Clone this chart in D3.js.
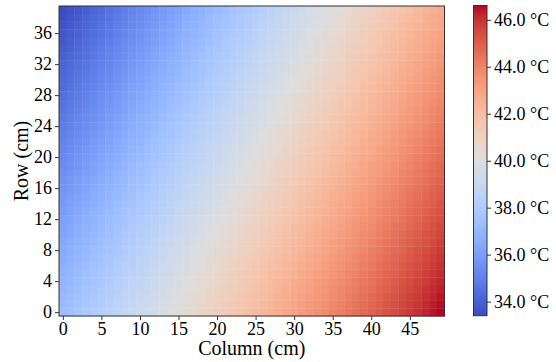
<!DOCTYPE html>
<html>
<head>
<meta charset="utf-8">
<script src="https://cdn.jsdelivr.net/npm/d3@7"></script>
<style>
  body { margin: 0; background: #fff; }
  svg text { font-family: "Liberation Serif", "Times New Roman", serif !important; fill: #000; }
</style>
</head>
<body>
<div id="main"></div>
<script>

// column / row indices of the grid (cm)
var colIds = d3.range(50);
var rowIds = d3.range(40);

var xTicks = [0, 5, 10, 15, 20, 25, 30, 35, 40, 45];
var yTicks = [0, 4, 8, 12, 16, 20, 24, 28, 32, 36];
var cbTicks = [34, 36, 38, 40, 42, 44, 46];

// temperature per cell, temps[row][col], row 0 is the bottom row
var temps = [
[37.30,37.49,37.68,37.87,38.06,38.25,38.44,38.63,38.82,39.01,39.20,39.39,39.58,39.77,39.96,40.15,40.34,40.53,40.72,40.91,41.10,41.29,41.48,41.67,41.86,42.05,42.24,42.43,42.62,42.81,43.00,43.19,43.38,43.57,43.76,43.95,44.14,44.33,44.52,44.71,44.90,45.09,45.28,45.47,45.66,45.85,46.04,46.23,46.42,46.61],
[37.20,37.39,37.58,37.77,37.96,38.15,38.34,38.53,38.72,38.91,39.10,39.29,39.48,39.67,39.86,40.05,40.24,40.43,40.62,40.81,41.00,41.19,41.38,41.57,41.76,41.95,42.14,42.33,42.52,42.71,42.90,43.09,43.28,43.47,43.66,43.85,44.04,44.23,44.42,44.61,44.80,44.99,45.18,45.37,45.56,45.75,45.94,46.13,46.32,46.51],
[37.10,37.29,37.48,37.67,37.86,38.05,38.24,38.43,38.62,38.81,39.00,39.19,39.38,39.57,39.76,39.95,40.14,40.33,40.52,40.71,40.90,41.09,41.28,41.47,41.66,41.85,42.04,42.23,42.42,42.61,42.80,42.99,43.18,43.37,43.56,43.75,43.94,44.13,44.32,44.51,44.70,44.89,45.08,45.27,45.46,45.65,45.84,46.03,46.22,46.41],
[37.00,37.19,37.38,37.57,37.76,37.95,38.14,38.33,38.52,38.71,38.90,39.09,39.28,39.47,39.66,39.85,40.04,40.23,40.42,40.61,40.80,40.99,41.18,41.37,41.56,41.75,41.94,42.13,42.32,42.51,42.70,42.89,43.08,43.27,43.46,43.65,43.84,44.03,44.22,44.41,44.60,44.79,44.98,45.17,45.36,45.55,45.74,45.93,46.12,46.31],
[36.90,37.09,37.28,37.47,37.66,37.85,38.04,38.23,38.42,38.61,38.80,38.99,39.18,39.37,39.56,39.75,39.94,40.13,40.32,40.51,40.70,40.89,41.08,41.27,41.46,41.65,41.84,42.03,42.22,42.41,42.60,42.79,42.98,43.17,43.36,43.55,43.74,43.93,44.12,44.31,44.50,44.69,44.88,45.07,45.26,45.45,45.64,45.83,46.02,46.21],
[36.80,36.99,37.18,37.37,37.56,37.75,37.94,38.13,38.32,38.51,38.70,38.89,39.08,39.27,39.46,39.65,39.84,40.03,40.22,40.41,40.60,40.79,40.98,41.17,41.36,41.55,41.74,41.93,42.12,42.31,42.50,42.69,42.88,43.07,43.26,43.45,43.64,43.83,44.02,44.21,44.40,44.59,44.78,44.97,45.16,45.35,45.54,45.73,45.92,46.11],
[36.70,36.89,37.08,37.27,37.46,37.65,37.84,38.03,38.22,38.41,38.60,38.79,38.98,39.17,39.36,39.55,39.74,39.93,40.12,40.31,40.50,40.69,40.88,41.07,41.26,41.45,41.64,41.83,42.02,42.21,42.40,42.59,42.78,42.97,43.16,43.35,43.54,43.73,43.92,44.11,44.30,44.49,44.68,44.87,45.06,45.25,45.44,45.63,45.82,46.01],
[36.60,36.79,36.98,37.17,37.36,37.55,37.74,37.93,38.12,38.31,38.50,38.69,38.88,39.07,39.26,39.45,39.64,39.83,40.02,40.21,40.40,40.59,40.78,40.97,41.16,41.35,41.54,41.73,41.92,42.11,42.30,42.49,42.68,42.87,43.06,43.25,43.44,43.63,43.82,44.01,44.20,44.39,44.58,44.77,44.96,45.15,45.34,45.53,45.72,45.91],
[36.50,36.69,36.88,37.07,37.26,37.45,37.64,37.83,38.02,38.21,38.40,38.59,38.78,38.97,39.16,39.35,39.54,39.73,39.92,40.11,40.30,40.49,40.68,40.87,41.06,41.25,41.44,41.63,41.82,42.01,42.20,42.39,42.58,42.77,42.96,43.15,43.34,43.53,43.72,43.91,44.10,44.29,44.48,44.67,44.86,45.05,45.24,45.43,45.62,45.81],
[36.40,36.59,36.78,36.97,37.16,37.35,37.54,37.73,37.92,38.11,38.30,38.49,38.68,38.87,39.06,39.25,39.44,39.63,39.82,40.01,40.20,40.39,40.58,40.77,40.96,41.15,41.34,41.53,41.72,41.91,42.10,42.29,42.48,42.67,42.86,43.05,43.24,43.43,43.62,43.81,44.00,44.19,44.38,44.57,44.76,44.95,45.14,45.33,45.52,45.71],
[36.30,36.49,36.68,36.87,37.06,37.25,37.44,37.63,37.82,38.01,38.20,38.39,38.58,38.77,38.96,39.15,39.34,39.53,39.72,39.91,40.10,40.29,40.48,40.67,40.86,41.05,41.24,41.43,41.62,41.81,42.00,42.19,42.38,42.57,42.76,42.95,43.14,43.33,43.52,43.71,43.90,44.09,44.28,44.47,44.66,44.85,45.04,45.23,45.42,45.61],
[36.20,36.39,36.58,36.77,36.96,37.15,37.34,37.53,37.72,37.91,38.10,38.29,38.48,38.67,38.86,39.05,39.24,39.43,39.62,39.81,40.00,40.19,40.38,40.57,40.76,40.95,41.14,41.33,41.52,41.71,41.90,42.09,42.28,42.47,42.66,42.85,43.04,43.23,43.42,43.61,43.80,43.99,44.18,44.37,44.56,44.75,44.94,45.13,45.32,45.51],
[36.10,36.29,36.48,36.67,36.86,37.05,37.24,37.43,37.62,37.81,38.00,38.19,38.38,38.57,38.76,38.95,39.14,39.33,39.52,39.71,39.90,40.09,40.28,40.47,40.66,40.85,41.04,41.23,41.42,41.61,41.80,41.99,42.18,42.37,42.56,42.75,42.94,43.13,43.32,43.51,43.70,43.89,44.08,44.27,44.46,44.65,44.84,45.03,45.22,45.41],
[36.00,36.19,36.38,36.57,36.76,36.95,37.14,37.33,37.52,37.71,37.90,38.09,38.28,38.47,38.66,38.85,39.04,39.23,39.42,39.61,39.80,39.99,40.18,40.37,40.56,40.75,40.94,41.13,41.32,41.51,41.70,41.89,42.08,42.27,42.46,42.65,42.84,43.03,43.22,43.41,43.60,43.79,43.98,44.17,44.36,44.55,44.74,44.93,45.12,45.31],
[35.90,36.09,36.28,36.47,36.66,36.85,37.04,37.23,37.42,37.61,37.80,37.99,38.18,38.37,38.56,38.75,38.94,39.13,39.32,39.51,39.70,39.89,40.08,40.27,40.46,40.65,40.84,41.03,41.22,41.41,41.60,41.79,41.98,42.17,42.36,42.55,42.74,42.93,43.12,43.31,43.50,43.69,43.88,44.07,44.26,44.45,44.64,44.83,45.02,45.21],
[35.80,35.99,36.18,36.37,36.56,36.75,36.94,37.13,37.32,37.51,37.70,37.89,38.08,38.27,38.46,38.65,38.84,39.03,39.22,39.41,39.60,39.79,39.98,40.17,40.36,40.55,40.74,40.93,41.12,41.31,41.50,41.69,41.88,42.07,42.26,42.45,42.64,42.83,43.02,43.21,43.40,43.59,43.78,43.97,44.16,44.35,44.54,44.73,44.92,45.11],
[35.70,35.89,36.08,36.27,36.46,36.65,36.84,37.03,37.22,37.41,37.60,37.79,37.98,38.17,38.36,38.55,38.74,38.93,39.12,39.31,39.50,39.69,39.88,40.07,40.26,40.45,40.64,40.83,41.02,41.21,41.40,41.59,41.78,41.97,42.16,42.35,42.54,42.73,42.92,43.11,43.30,43.49,43.68,43.87,44.06,44.25,44.44,44.63,44.82,45.01],
[35.60,35.79,35.98,36.17,36.36,36.55,36.74,36.93,37.12,37.31,37.50,37.69,37.88,38.07,38.26,38.45,38.64,38.83,39.02,39.21,39.40,39.59,39.78,39.97,40.16,40.35,40.54,40.73,40.92,41.11,41.30,41.49,41.68,41.87,42.06,42.25,42.44,42.63,42.82,43.01,43.20,43.39,43.58,43.77,43.96,44.15,44.34,44.53,44.72,44.91],
[35.50,35.69,35.88,36.07,36.26,36.45,36.64,36.83,37.02,37.21,37.40,37.59,37.78,37.97,38.16,38.35,38.54,38.73,38.92,39.11,39.30,39.49,39.68,39.87,40.06,40.25,40.44,40.63,40.82,41.01,41.20,41.39,41.58,41.77,41.96,42.15,42.34,42.53,42.72,42.91,43.10,43.29,43.48,43.67,43.86,44.05,44.24,44.43,44.62,44.81],
[35.40,35.59,35.78,35.97,36.16,36.35,36.54,36.73,36.92,37.11,37.30,37.49,37.68,37.87,38.06,38.25,38.44,38.63,38.82,39.01,39.20,39.39,39.58,39.77,39.96,40.15,40.34,40.53,40.72,40.91,41.10,41.29,41.48,41.67,41.86,42.05,42.24,42.43,42.62,42.81,43.00,43.19,43.38,43.57,43.76,43.95,44.14,44.33,44.52,44.71],
[35.30,35.49,35.68,35.87,36.06,36.25,36.44,36.63,36.82,37.01,37.20,37.39,37.58,37.77,37.96,38.15,38.34,38.53,38.72,38.91,39.10,39.29,39.48,39.67,39.86,40.05,40.24,40.43,40.62,40.81,41.00,41.19,41.38,41.57,41.76,41.95,42.14,42.33,42.52,42.71,42.90,43.09,43.28,43.47,43.66,43.85,44.04,44.23,44.42,44.61],
[35.20,35.39,35.58,35.77,35.96,36.15,36.34,36.53,36.72,36.91,37.10,37.29,37.48,37.67,37.86,38.05,38.24,38.43,38.62,38.81,39.00,39.19,39.38,39.57,39.76,39.95,40.14,40.33,40.52,40.71,40.90,41.09,41.28,41.47,41.66,41.85,42.04,42.23,42.42,42.61,42.80,42.99,43.18,43.37,43.56,43.75,43.94,44.13,44.32,44.51],
[35.10,35.29,35.48,35.67,35.86,36.05,36.24,36.43,36.62,36.81,37.00,37.19,37.38,37.57,37.76,37.95,38.14,38.33,38.52,38.71,38.90,39.09,39.28,39.47,39.66,39.85,40.04,40.23,40.42,40.61,40.80,40.99,41.18,41.37,41.56,41.75,41.94,42.13,42.32,42.51,42.70,42.89,43.08,43.27,43.46,43.65,43.84,44.03,44.22,44.41],
[35.00,35.19,35.38,35.57,35.76,35.95,36.14,36.33,36.52,36.71,36.90,37.09,37.28,37.47,37.66,37.85,38.04,38.23,38.42,38.61,38.80,38.99,39.18,39.37,39.56,39.75,39.94,40.13,40.32,40.51,40.70,40.89,41.08,41.27,41.46,41.65,41.84,42.03,42.22,42.41,42.60,42.79,42.98,43.17,43.36,43.55,43.74,43.93,44.12,44.31],
[34.90,35.09,35.28,35.47,35.66,35.85,36.04,36.23,36.42,36.61,36.80,36.99,37.18,37.37,37.56,37.75,37.94,38.13,38.32,38.51,38.70,38.89,39.08,39.27,39.46,39.65,39.84,40.03,40.22,40.41,40.60,40.79,40.98,41.17,41.36,41.55,41.74,41.93,42.12,42.31,42.50,42.69,42.88,43.07,43.26,43.45,43.64,43.83,44.02,44.21],
[34.80,34.99,35.18,35.37,35.56,35.75,35.94,36.13,36.32,36.51,36.70,36.89,37.08,37.27,37.46,37.65,37.84,38.03,38.22,38.41,38.60,38.79,38.98,39.17,39.36,39.55,39.74,39.93,40.12,40.31,40.50,40.69,40.88,41.07,41.26,41.45,41.64,41.83,42.02,42.21,42.40,42.59,42.78,42.97,43.16,43.35,43.54,43.73,43.92,44.11],
[34.70,34.89,35.08,35.27,35.46,35.65,35.84,36.03,36.22,36.41,36.60,36.79,36.98,37.17,37.36,37.55,37.74,37.93,38.12,38.31,38.50,38.69,38.88,39.07,39.26,39.45,39.64,39.83,40.02,40.21,40.40,40.59,40.78,40.97,41.16,41.35,41.54,41.73,41.92,42.11,42.30,42.49,42.68,42.87,43.06,43.25,43.44,43.63,43.82,44.01],
[34.60,34.79,34.98,35.17,35.36,35.55,35.74,35.93,36.12,36.31,36.50,36.69,36.88,37.07,37.26,37.45,37.64,37.83,38.02,38.21,38.40,38.59,38.78,38.97,39.16,39.35,39.54,39.73,39.92,40.11,40.30,40.49,40.68,40.87,41.06,41.25,41.44,41.63,41.82,42.01,42.20,42.39,42.58,42.77,42.96,43.15,43.34,43.53,43.72,43.91],
[34.50,34.69,34.88,35.07,35.26,35.45,35.64,35.83,36.02,36.21,36.40,36.59,36.78,36.97,37.16,37.35,37.54,37.73,37.92,38.11,38.30,38.49,38.68,38.87,39.06,39.25,39.44,39.63,39.82,40.01,40.20,40.39,40.58,40.77,40.96,41.15,41.34,41.53,41.72,41.91,42.10,42.29,42.48,42.67,42.86,43.05,43.24,43.43,43.62,43.81],
[34.40,34.59,34.78,34.97,35.16,35.35,35.54,35.73,35.92,36.11,36.30,36.49,36.68,36.87,37.06,37.25,37.44,37.63,37.82,38.01,38.20,38.39,38.58,38.77,38.96,39.15,39.34,39.53,39.72,39.91,40.10,40.29,40.48,40.67,40.86,41.05,41.24,41.43,41.62,41.81,42.00,42.19,42.38,42.57,42.76,42.95,43.14,43.33,43.52,43.71],
[34.30,34.49,34.68,34.87,35.06,35.25,35.44,35.63,35.82,36.01,36.20,36.39,36.58,36.77,36.96,37.15,37.34,37.53,37.72,37.91,38.10,38.29,38.48,38.67,38.86,39.05,39.24,39.43,39.62,39.81,40.00,40.19,40.38,40.57,40.76,40.95,41.14,41.33,41.52,41.71,41.90,42.09,42.28,42.47,42.66,42.85,43.04,43.23,43.42,43.61],
[34.20,34.39,34.58,34.77,34.96,35.15,35.34,35.53,35.72,35.91,36.10,36.29,36.48,36.67,36.86,37.05,37.24,37.43,37.62,37.81,38.00,38.19,38.38,38.57,38.76,38.95,39.14,39.33,39.52,39.71,39.90,40.09,40.28,40.47,40.66,40.85,41.04,41.23,41.42,41.61,41.80,41.99,42.18,42.37,42.56,42.75,42.94,43.13,43.32,43.51],
[34.10,34.29,34.48,34.67,34.86,35.05,35.24,35.43,35.62,35.81,36.00,36.19,36.38,36.57,36.76,36.95,37.14,37.33,37.52,37.71,37.90,38.09,38.28,38.47,38.66,38.85,39.04,39.23,39.42,39.61,39.80,39.99,40.18,40.37,40.56,40.75,40.94,41.13,41.32,41.51,41.70,41.89,42.08,42.27,42.46,42.65,42.84,43.03,43.22,43.41],
[34.00,34.19,34.38,34.57,34.76,34.95,35.14,35.33,35.52,35.71,35.90,36.09,36.28,36.47,36.66,36.85,37.04,37.23,37.42,37.61,37.80,37.99,38.18,38.37,38.56,38.75,38.94,39.13,39.32,39.51,39.70,39.89,40.08,40.27,40.46,40.65,40.84,41.03,41.22,41.41,41.60,41.79,41.98,42.17,42.36,42.55,42.74,42.93,43.12,43.31],
[33.90,34.09,34.28,34.47,34.66,34.85,35.04,35.23,35.42,35.61,35.80,35.99,36.18,36.37,36.56,36.75,36.94,37.13,37.32,37.51,37.70,37.89,38.08,38.27,38.46,38.65,38.84,39.03,39.22,39.41,39.60,39.79,39.98,40.17,40.36,40.55,40.74,40.93,41.12,41.31,41.50,41.69,41.88,42.07,42.26,42.45,42.64,42.83,43.02,43.21],
[33.80,33.99,34.18,34.37,34.56,34.75,34.94,35.13,35.32,35.51,35.70,35.89,36.08,36.27,36.46,36.65,36.84,37.03,37.22,37.41,37.60,37.79,37.98,38.17,38.36,38.55,38.74,38.93,39.12,39.31,39.50,39.69,39.88,40.07,40.26,40.45,40.64,40.83,41.02,41.21,41.40,41.59,41.78,41.97,42.16,42.35,42.54,42.73,42.92,43.11],
[33.70,33.89,34.08,34.27,34.46,34.65,34.84,35.03,35.22,35.41,35.60,35.79,35.98,36.17,36.36,36.55,36.74,36.93,37.12,37.31,37.50,37.69,37.88,38.07,38.26,38.45,38.64,38.83,39.02,39.21,39.40,39.59,39.78,39.97,40.16,40.35,40.54,40.73,40.92,41.11,41.30,41.49,41.68,41.87,42.06,42.25,42.44,42.63,42.82,43.01],
[33.60,33.79,33.98,34.17,34.36,34.55,34.74,34.93,35.12,35.31,35.50,35.69,35.88,36.07,36.26,36.45,36.64,36.83,37.02,37.21,37.40,37.59,37.78,37.97,38.16,38.35,38.54,38.73,38.92,39.11,39.30,39.49,39.68,39.87,40.06,40.25,40.44,40.63,40.82,41.01,41.20,41.39,41.58,41.77,41.96,42.15,42.34,42.53,42.72,42.91],
[33.50,33.69,33.88,34.07,34.26,34.45,34.64,34.83,35.02,35.21,35.40,35.59,35.78,35.97,36.16,36.35,36.54,36.73,36.92,37.11,37.30,37.49,37.68,37.87,38.06,38.25,38.44,38.63,38.82,39.01,39.20,39.39,39.58,39.77,39.96,40.15,40.34,40.53,40.72,40.91,41.10,41.29,41.48,41.67,41.86,42.05,42.24,42.43,42.62,42.81],
[33.40,33.59,33.78,33.97,34.16,34.35,34.54,34.73,34.92,35.11,35.30,35.49,35.68,35.87,36.06,36.25,36.44,36.63,36.82,37.01,37.20,37.39,37.58,37.77,37.96,38.15,38.34,38.53,38.72,38.91,39.10,39.29,39.48,39.67,39.86,40.05,40.24,40.43,40.62,40.81,41.00,41.19,41.38,41.57,41.76,41.95,42.14,42.33,42.52,42.71]
];

// coolwarm colormap control points
var coolwarm = d3.piecewise(d3.interpolateRgb, [
  "rgb(59,76,192)", "rgb(68,90,204)", "rgb(77,104,215)", "rgb(87,117,225)",
  "rgb(98,130,234)", "rgb(108,142,241)", "rgb(119,154,247)", "rgb(130,165,251)",
  "rgb(141,176,254)", "rgb(152,185,255)", "rgb(163,194,255)", "rgb(174,201,253)",
  "rgb(184,208,249)", "rgb(194,213,244)", "rgb(204,217,238)", "rgb(213,219,230)",
  "rgb(221,221,221)", "rgb(229,216,209)", "rgb(236,211,197)", "rgb(241,204,185)",
  "rgb(245,196,173)", "rgb(247,187,160)", "rgb(247,177,148)", "rgb(247,166,135)",
  "rgb(244,154,123)", "rgb(241,141,111)", "rgb(236,127,99)", "rgb(229,112,88)",
  "rgb(222,96,77)", "rgb(213,80,66)", "rgb(203,62,56)", "rgb(192,40,47)",
  "rgb(180,4,38)"
]);

var w = 556;
var h = 362;
var padL = 59, padR = 444.5, padT = 6, padB = 316;
var serif = "'Liberation Serif', 'Times New Roman', serif";

var vmin = d3.min(temps, function(r) { return d3.min(r); });
var vmax = d3.max(temps, function(r) { return d3.max(r); });

var color = d3.scaleSequential(coolwarm).domain([vmin, vmax]);

var x = d3.scaleLinear().domain([-0.5, 49.5]).range([padL, padR]);
var y = d3.scaleLinear().domain([-0.5, 39.5]).range([padB, padT]);

var svg = d3.select("#main").append("svg")
    .attr("width", w)
    .attr("height", h)
    .style("font-family", serif);

// flatten the grid into cells
var cells = [];
rowIds.forEach(function(r) {
  colIds.forEach(function(c) {
    cells.push({ row: r, col: c, value: temps[r][c] });
  });
});

svg.append("g")
  .selectAll("rect")
  .data(cells)
  .enter()
  .append("rect")
  .attr("x", function(d) { return x(d.col - 0.5); })
  .attr("y", function(d) { return y(d.row + 0.5); })
  .attr("width", function(d) { return x(d.col + 0.5) - x(d.col - 0.5) + 0.4; })
  .attr("height", function(d) { return y(d.row - 0.5) - y(d.row + 0.5) + 0.4; })
  .attr("fill", function(d) { return color(d.value); });

// frame
svg.append("rect")
  .attr("x", padL).attr("y", padT)
  .attr("width", padR - padL).attr("height", padB - padT)
  .attr("fill", "none").attr("stroke", "#333").attr("stroke-width", 1);

var xAxis = svg.append("g")
  .attr("transform", "translate(0," + padB + ")")
  .call(d3.axisBottom(x).tickValues(xTicks).tickSize(4).tickPadding(2));
var yAxis = svg.append("g")
  .attr("transform", "translate(" + padL + ",0)")
  .call(d3.axisLeft(y).tickValues(yTicks).tickSize(4).tickPadding(3));

[xAxis, yAxis].forEach(function(g) {
  g.attr("font-family", null).style("font-family", serif);
  g.select(".domain").remove();
  g.selectAll("line").attr("stroke", "#333");
  g.selectAll("text").style("font-family", serif).style("font-size", "18px").attr("fill", "#000");
});

svg.append("text")
  .attr("x", (padL + padR) / 2)
  .attr("y", 355)
  .attr("text-anchor", "middle")
  .style("font-size", "20px")
  .text("Column (cm)");

svg.append("text")
  .attr("transform", "translate(28," + (padT + padB) / 2 + ") rotate(-90)")
  .attr("text-anchor", "middle")
  .style("font-size", "20px")
  .text("Row (cm)");

// colorbar
var cbx = 473.5, cbw = 13.5, cbTop = 5.5, cbBottom = 315.7;
var cy = d3.scaleLinear().domain([vmin, vmax]).range([cbBottom, cbTop]);

var grad = svg.append("defs").append("linearGradient")
  .attr("id", "cbgrad")
  .attr("x1", 0).attr("y1", 1).attr("x2", 0).attr("y2", 0);
grad.selectAll("stop")
  .data(d3.range(0, 1.0001, 1 / 64))
  .enter()
  .append("stop")
  .attr("offset", function(t) { return t; })
  .attr("stop-color", function(t) { return coolwarm(t); });

svg.append("rect")
  .attr("x", cbx).attr("y", cbTop)
  .attr("width", cbw).attr("height", cbBottom - cbTop)
  .attr("fill", "url(#cbgrad)")
  .attr("stroke", "#333").attr("stroke-width", 1);

var cbAxis = svg.append("g")
  .attr("transform", "translate(" + (cbx + cbw) + ",0)")
  .call(d3.axisRight(cy).tickValues(cbTicks).tickSize(4).tickPadding(3)
    .tickFormat(function(d) { return d3.format(".1f")(d) + " \u00B0C"; }));
cbAxis.attr("font-family", null).style("font-family", serif);
cbAxis.select(".domain").remove();
cbAxis.selectAll("line").attr("stroke", "#333");
cbAxis.selectAll("text").style("font-family", serif).style("font-size", "18px").attr("fill", "#000");

</script>
</body>
</html>
